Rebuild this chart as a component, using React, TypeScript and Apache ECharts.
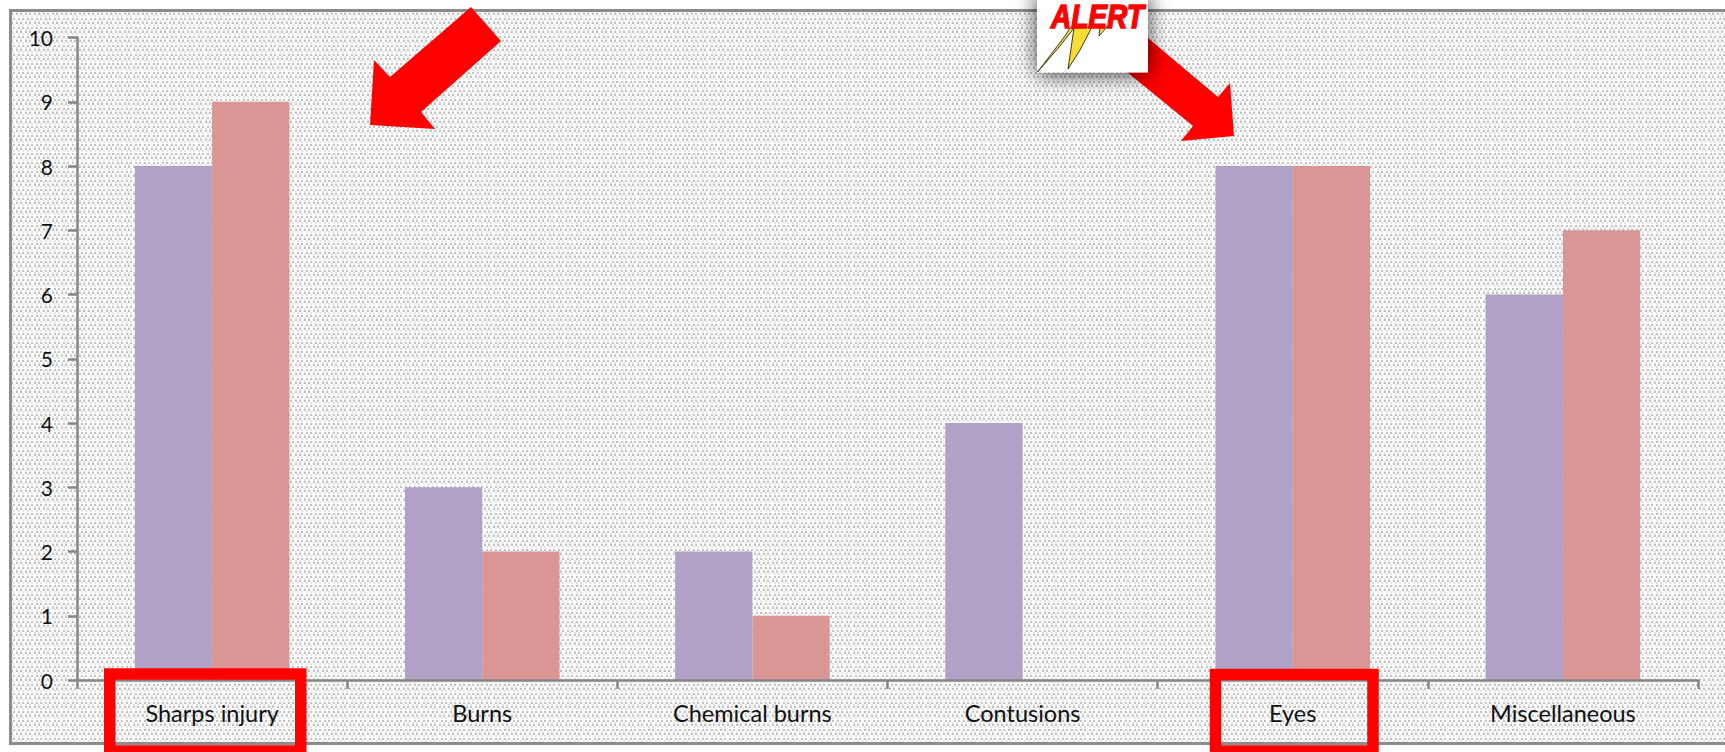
import React, { useEffect, useRef } from "react";
import * as echarts from "echarts";

const categories = ["Sharps injury", "Burns", "Chemical burns", "Contusions", "Eyes", "Miscellaneous"];
const seriesA = [8, 3, 2, 4, 8, 6];
const seriesB = [9, 2, 1, null, 8, 7];
const yTicks = { min: 0, max: 10, interval: 1 };

const PURPLE = "#b2a1c7";
const PINK = "#d99694";
const RED = "#ff0000";
const AXIS = "#868686";

function dotPattern() {
  const c = document.createElement("canvas");
  c.width = 9;
  c.height = 9;
  const g = c.getContext("2d")!;
  g.fillStyle = "#ffffff";
  g.fillRect(0, 0, 9, 9);
  g.fillStyle = "#c2c2c2";
  [[0, 0], [4, 0], [2, 4], [7, 4]].forEach(([x, y]) => g.fillRect(x, y, 2, 2));
  g.fillStyle = "#e6e6e6";
  [[2, 2], [7, 2], [0, 6], [4, 6]].forEach(([x, y]) => g.fillRect(x, y, 2, 2));
  return c;
}

export default function App() {
  const ref = useRef<HTMLDivElement>(null);
  useEffect(() => {
    document.body.style.margin = "0";
    const chart = echarts.init(ref.current!, undefined, { renderer: "svg" });
    const poly = (points: number[][], fill: string, z: number, extra: any = {}) => ({
      type: "polygon",
      z,
      shape: { points },
      style: { fill, ...extra },
    });
    const box = (x: number, y: number, w: number, h: number) => ({
      type: "rect",
      z: 20,
      shape: { x, y, width: w, height: h },
      style: { fill: "none", stroke: RED, lineWidth: 11.5 },
    });
    chart.setOption({
      animation: false,
      backgroundColor: "#ffffff",
      grid: { left: 77, right: 27, top: 37.5, bottom: 72 },
      xAxis: {
        type: "category",
        data: categories,
        z: 5,
        axisLine: { lineStyle: { color: AXIS, width: 2.5 } },
        axisTick: { show: true, length: 9, lineStyle: { color: AXIS, width: 2.5 } },
        axisLabel: { color: "#111", fontFamily: "Lato", fontSize: 23.5, margin: 21 },
      },
      yAxis: {
        type: "value",
        ...yTicks,
        z: 5,
        splitLine: { show: false },
        axisLine: { show: true, lineStyle: { color: AXIS, width: 2.5 } },
        axisTick: { show: true, length: 9, lineStyle: { color: AXIS, width: 2.5 } },
        axisLabel: { color: "#111", fontFamily: "Lato", fontSize: 21, margin: 24 },
      },
      series: [
        { type: "bar", data: seriesA, barGap: 0, barCategoryGap: "42.8%", itemStyle: { color: PURPLE }, z: 3 },
        { type: "bar", data: seriesB, itemStyle: { color: PINK }, z: 3 },
      ],
      graphic: {
        elements: [
          {
            type: "rect",
            z: -10,
            silent: true,
            shape: { x: 10.5, y: 10.5, width: 1730, height: 733 },
            style: { fill: { image: dotPattern(), repeat: "repeat" }, stroke: "#8c8c8c", lineWidth: 3 },
          },
          poly([[471, 7], [501, 41], [421, 112], [435, 129], [370, 125], [374, 60], [390, 77]], RED, 20),
          poly([[1120, 20], [1148, 38], [1218, 97], [1230, 83], [1234, 136], [1181, 141], [1193, 126], [1100, 50]], RED, 20),
          box(109.75, 674, 191, 77),
          box(1215.5, 674.5, 157.5, 76.5),
          {
            type: "rect",
            z: 21,
            shape: { x: 1037, y: -8, width: 111, height: 80.5 },
            style: { fill: "#ffffff", shadowBlur: 22, shadowColor: "rgba(0,0,0,0.75)", shadowOffsetY: 2 },
          },
          poly([[1037.5, 72], [1065, 36], [1070, 28], [1074, 28], [1060, 46]], "#f3dc45", 22, { stroke: "#3c3c18", lineWidth: 1 }),
          poly([[1068, 69], [1074, 28], [1092, 27], [1080, 50]], "#f9dc35", 22, { stroke: "#3c3c18", lineWidth: 1 }),
          poly([[1099, 36], [1100, 27], [1107, 27]], "#f3dc45", 22, { stroke: "#3c3c18", lineWidth: 1 }),
          {
            type: "text",
            z: 23,
            x: 1051,
            y: 33,
            scaleX: 0.85,
            style: {
              text: "ALERT",
              fill: RED,
              font: "italic 900 33px 'Liberation Sans'",
              verticalAlign: "bottom",
              stroke: RED,
              lineWidth: 1.5,
              shadowColor: "#000",
              shadowBlur: 1,
              shadowOffsetX: -2,
              shadowOffsetY: 1.5,
            },
          },
        ],
      },
    });
    return () => chart.dispose();
  }, []);
  return <div ref={ref} style={{ width: 1725, height: 752, overflow: "hidden" }} />;
}
